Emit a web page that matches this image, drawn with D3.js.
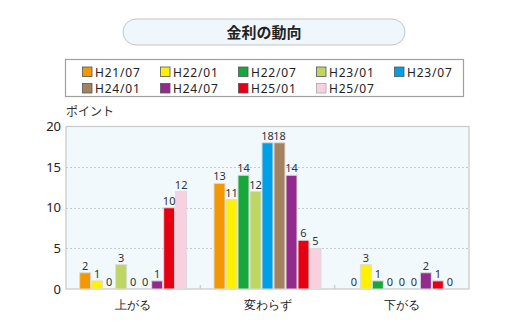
<!DOCTYPE html>
<html><head><meta charset="utf-8">
<script src="https://cdn.jsdelivr.net/npm/d3@7"></script>
<style>body{margin:0;background:#fff}svg{display:block;font-family:"Noto Sans CJK JP","Noto Sans",sans-serif}</style>
</head><body><svg id="c" width="520" height="327"></svg>
<script>
const title = "金利の動向";
const categories = ["上がる", "変わらず", "下がる"];
const seriesNames = ["H21/07","H22/01","H22/07","H23/01","H23/07","H24/01","H24/07","H25/01","H25/07"];
const seriesColors = ["#f39800","#fff100","#17a83b","#bdd762","#00a0e9","#a4825f","#922b8d","#e60012","#f9d0e0"];
const H21_07 = [2, 13, 0];
const H22_01 = [1, 11, 3];
const H22_07 = [0, 14, 1];
const H23_01 = [3, 12, 0];
const H23_07 = [0, 18, 0];
const H24_01 = [0, 18, 0];
const H24_07 = [1, 14, 2];
const H25_01 = [10, 6, 1];
const H25_07 = [12, 5, 0];
const seriesValues = [H21_07,H22_01,H22_07,H23_01,H23_07,H24_01,H24_07,H25_01,H25_07];
const yTicks = [0,5,10,15,20];
const yUnit = "ポイント";

const svg = d3.select("#c");
// title pill
svg.append("rect").attr("x",123).attr("y",19).attr("width",282).attr("height",26).attr("rx",13)
  .attr("fill","#eff7fc").attr("stroke","#c4c4c4").attr("stroke-width",1);
svg.append("text").attr("x",264).attr("y",37.5).attr("text-anchor","middle")
  .attr("font-size",15).attr("font-weight","bold").attr("fill","#222").text(title);

// legend
svg.append("rect").attr("x",65.5).attr("y",59.5).attr("width",398).attr("height",37)
  .attr("fill","#fff").attr("stroke","#a0a0a0").attr("stroke-width",1.2);
const lg = svg.append("g");
seriesNames.forEach((n,i)=>{
  const col=i%5,row=Math.floor(i/5);
  const gx=82+col*78, gy=66.5+row*16.5;
  lg.append("rect").attr("x",gx+0.5).attr("y",gy+0.5).attr("width",9.5).attr("height",9.5)
    .attr("fill",seriesColors[i]).attr("stroke",i===8?"#aaa":"#555").attr("stroke-width",0.8);
  lg.append("text").attr("x",gx+13).attr("y",gy+10).attr("font-size",12).attr("letter-spacing",0.8)
    .attr("font-family","Noto Sans, sans-serif").attr("fill","#222").text(n);
});

// plot
const L=66,R=469,T=126.5,B=289;
const x0=d3.scaleBand().domain(categories).range([L,R]).padding(0);
const x1=d3.scaleBand().domain(seriesNames).range([(x0.bandwidth()-108)/2,(x0.bandwidth()+108)/2]).paddingInner(1/12).paddingOuter(1/24);
const y=d3.scaleLinear().domain([0,20]).range([B,T]);

svg.append("rect").attr("x",L).attr("y",T).attr("width",R-L).attr("height",B-T).attr("fill","#f2f9fd");
svg.append("g").selectAll("line").data(yTicks.filter(v=>v>0&&v<20)).join("line")
  .attr("x1",L).attr("x2",R).attr("y1",d=>Math.round(y(d))+0.5).attr("y2",d=>Math.round(y(d))+0.5)
  .attr("stroke","#c8c8c8").attr("stroke-dasharray","2,2");
svg.append("rect").attr("x",L).attr("y",T).attr("width",R-L).attr("height",B-T)
  .attr("fill","none").attr("stroke","#c8c8c8").attr("stroke-width",1.2);

// category separators
svg.append("g").selectAll("line").data(categories.slice(1)).join("line")
  .attr("x1",d=>x0(d)).attr("x2",d=>x0(d)).attr("y1",B).attr("y2",B-4)
  .attr("stroke","#d0d0d0").attr("stroke-width",1.5);

const yAxis=d3.axisLeft(y).tickValues(yTicks).tickSize(0).tickPadding(5);
const ya=svg.append("g").attr("transform",`translate(${L},0)`).call(yAxis);
ya.select(".domain").remove();
ya.selectAll("text").attr("font-size",13).attr("fill","#222").attr("font-family","Noto Sans, sans-serif");

svg.append("text").attr("x",66).attr("y",116).attr("font-size",12).attr("fill","#333").text(yUnit);

const xAxis=d3.axisBottom(x0).tickSize(0).tickPadding(11);
const xa=svg.append("g").attr("transform",`translate(0,${B})`).call(xAxis);
xa.select(".domain").remove();
xa.selectAll("text").attr("font-size",12).attr("fill","#222");

const data=[];
categories.forEach((c,ci)=>seriesNames.forEach((s,si)=>data.push({c,s,si,v:seriesValues[si][ci]})));
const g=svg.append("g");
g.selectAll("rect").data(data.filter(d=>d.v>0)).join("rect")
  .attr("x",d=>x0(d.c)+x1(d.s)).attr("width",x1.bandwidth())
  .attr("y",d=>y(d.v)).attr("height",d=>B-y(d.v))
  .attr("fill",d=>seriesColors[d.si]).attr("stroke","#dcdcdc").attr("stroke-width",1);
g.selectAll("text").data(data).join("text")
  .attr("x",d=>x0(d.c)+x1(d.s)+x1.bandwidth()/2).attr("y",d=>y(d.v)-3)
  .attr("text-anchor","middle").attr("font-size",11).attr("fill","#333")
  .attr("font-family","Noto Sans, sans-serif").text(d=>d.v);
</script></body></html>
